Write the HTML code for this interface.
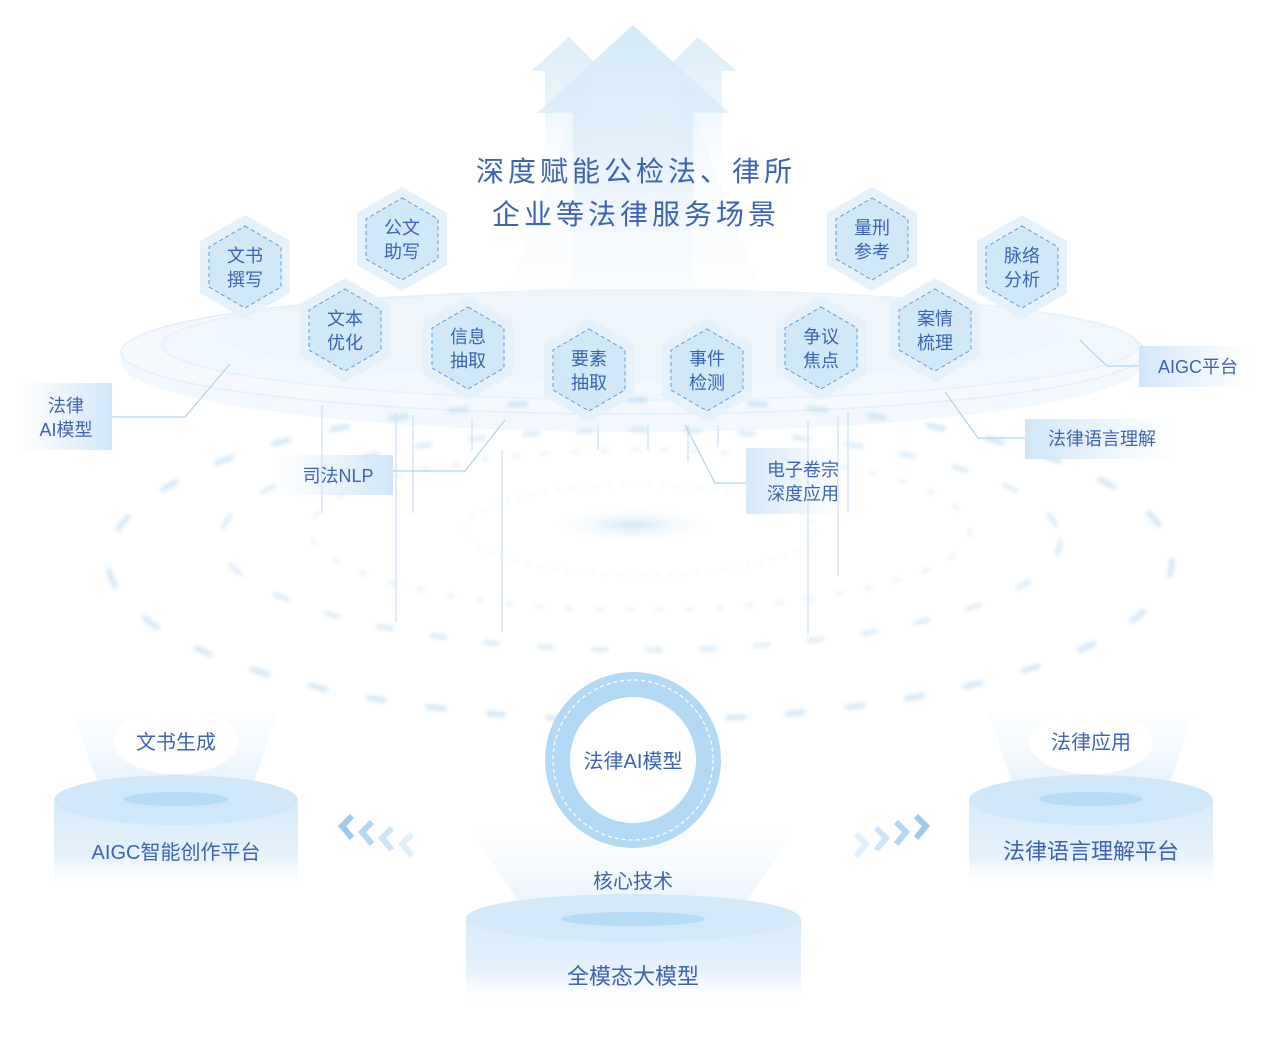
<!DOCTYPE html>
<html><head><meta charset="utf-8">
<style>
html,body{margin:0;padding:0;background:#fff;}
svg{display:block;}
text{font-family:"Liberation Sans","Noto Sans CJK SC",sans-serif;fill:#3d64b4;}
</style></head>
<body>
<svg width="1280" height="1038" viewBox="0 0 1280 1038" xmlns="http://www.w3.org/2000/svg">
<defs>
<linearGradient id="arrowG" x1="0" y1="0" x2="0" y2="1">
<stop offset="0" stop-color="#d3e9f8"/><stop offset="0.45" stop-color="#deeefa" stop-opacity="0.8"/><stop offset="1" stop-color="#eef6fd" stop-opacity="0"/></linearGradient>
<linearGradient id="beamG" x1="0" y1="0" x2="0" y2="1">
<stop offset="0" stop-color="#e6f2fb" stop-opacity="0.8"/><stop offset="1" stop-color="#f0f7fd" stop-opacity="0.3"/></linearGradient>
<linearGradient id="boxL" x1="0" y1="0" x2="1" y2="0">
<stop offset="0" stop-color="#dcedfa" stop-opacity="0"/><stop offset="1" stop-color="#cfe6f8"/></linearGradient>
<linearGradient id="boxR" x1="0" y1="0" x2="1" y2="0">
<stop offset="0" stop-color="#cfe6f8"/><stop offset="1" stop-color="#dcedfa" stop-opacity="0"/></linearGradient>
<linearGradient id="cylG" x1="0" y1="0" x2="0" y2="1">
<stop offset="0" stop-color="#d6ebf9"/><stop offset="0.6" stop-color="#e6f2fc"/><stop offset="1" stop-color="#fff" stop-opacity="0"/></linearGradient>
<linearGradient id="coneG" x1="0" y1="0" x2="0" y2="1">
<stop offset="0" stop-color="#eaf4fc" stop-opacity="0.2"/><stop offset="1" stop-color="#d3e9f8"/></linearGradient>
<radialGradient id="glow" cx="0.5" cy="0.5" r="0.5">
<stop offset="0" stop-color="#d4e9f8"/><stop offset="1" stop-color="#fff" stop-opacity="0"/></radialGradient>
<filter id="blur"><feGaussianBlur stdDeviation="2.2"/></filter>
<filter id="blur6"><feGaussianBlur stdDeviation="6"/></filter>
</defs>

<ellipse cx="633" cy="352" rx="512" ry="62" fill="#f5f9fe" stroke="#e3eef9" stroke-width="1.5"/>
<ellipse cx="650" cy="345" rx="488" ry="55" fill="#f0f7fd" stroke="#e6f1fb" stroke-width="1.5"/>
<ellipse cx="640" cy="335" rx="420" ry="45" fill="#ecf5fc" opacity="0.6"/>
<path d="M121 352 A512 62 0 0 0 1145 352 L1145 362 A512 70 0 0 1 121 362Z" fill="#e6f1fb" opacity="0.5"/>
<ellipse cx="633" cy="525" rx="90" ry="20" fill="url(#glow)"/>

<path d="M573 112 L693 112 L780 340 L490 340Z" fill="url(#beamG)" opacity="0.5"/>
<path d="M569 37 L603 71 L590 71 L590 180 L545 180 L545 71 L531 71Z" fill="url(#arrowG)" opacity="0.8"/>
<path d="M698 37 L737 71 L722 71 L722 180 L678 180 L678 71 L664 71Z" fill="url(#arrowG)" opacity="0.8"/>
<path d="M633 25 L729 113 L693 113 L693 300 L573 300 L573 113 L537 113Z" fill="url(#arrowG)"/>

<g fill="none" stroke-linecap="round" filter="url(#blur)" opacity="0.75">
<ellipse cx="640" cy="560" rx="532" ry="160" stroke="#c0ddf4" stroke-width="5" stroke-dasharray="16 44"/>
<ellipse cx="640" cy="540" rx="420" ry="110" stroke="#c8e1f5" stroke-width="4" stroke-dasharray="14 40"/>
<ellipse cx="640" cy="530" rx="330" ry="80" stroke="#d6e9f8" stroke-width="3" stroke-dasharray="6 24"/>
<ellipse cx="640" cy="530" rx="175" ry="45" stroke="#dcecf9" stroke-width="2" stroke-dasharray="3 10"/>
</g>

<g stroke="#d3e7f7" stroke-width="1.5">
<line x1="322" y1="405" x2="322" y2="513"/>
<line x1="396" y1="412" x2="396" y2="622"/>
<line x1="413" y1="415" x2="413" y2="513"/>
<line x1="472" y1="418" x2="472" y2="450"/>
<line x1="502" y1="450" x2="502" y2="632"/>
<line x1="598" y1="425" x2="598" y2="450"/>
<line x1="648" y1="425" x2="648" y2="450"/>
<line x1="688" y1="425" x2="688" y2="462"/>
<line x1="718" y1="425" x2="718" y2="447"/>
<line x1="808" y1="420" x2="808" y2="635"/>
<line x1="838" y1="415" x2="838" y2="576"/>
<line x1="848" y1="412" x2="848" y2="513"/>
</g>

<g stroke="#aed3f0" stroke-width="1.2" fill="none">
<polyline points="112,417 185,417 230,364"/>
<polyline points="393,471 465,471 505,420"/>
<polyline points="746,483 715,483 685,425"/>
<polyline points="1025,438 978,438 945,392"/>
<polyline points="1139,366 1107,366 1088,348 1080,340"/>
</g>

<rect x="15" y="383" width="97" height="67" fill="url(#boxL)"/>
<text x="66" y="412" font-size="18" text-anchor="middle">法律</text>
<text x="66" y="436" font-size="18" text-anchor="middle">AI模型</text>
<rect x="270" y="455" width="123" height="40" fill="url(#boxL)"/>
<text x="338" y="482" font-size="18" text-anchor="middle">司法NLP</text>
<rect x="746" y="448" width="100" height="66" fill="url(#boxR)" opacity="0.9"/>
<text x="803" y="476" font-size="18" text-anchor="middle">电子卷宗</text>
<text x="803" y="500" font-size="18" text-anchor="middle">深度应用</text>
<rect x="1025" y="419" width="155" height="40" fill="url(#boxR)"/>
<text x="1102" y="445" font-size="18" text-anchor="middle">法律语言理解</text>
<rect x="1139" y="346" width="115" height="41" fill="url(#boxR)"/>
<text x="1198" y="373" font-size="18" text-anchor="middle">AIGC平台</text>

<text x="636" y="181" font-size="28" text-anchor="middle" letter-spacing="4">深度赋能公检法、律所</text>
<text x="636" y="224" font-size="28" text-anchor="middle" letter-spacing="4">企业等法律服务场景</text>

<g>
<g transform="translate(245,267)"><polygon points="0,-52 45,-26 45,26 0,52 -45,26 -45,-26" fill="#e5f1fb"/><polygon points="0,-41 36,-20 36,20 0,41 -36,20 -36,-20" fill="#d1e8f8" stroke="#5d9bd8" stroke-width="1" stroke-dasharray="4 3"/><text y="-5" font-size="18" text-anchor="middle">文书</text><text y="19" font-size="18" text-anchor="middle">撰写</text></g>
<g transform="translate(402,239)"><polygon points="0,-52 45,-26 45,26 0,52 -45,26 -45,-26" fill="#e5f1fb"/><polygon points="0,-41 36,-20 36,20 0,41 -36,20 -36,-20" fill="#d1e8f8" stroke="#5d9bd8" stroke-width="1" stroke-dasharray="4 3"/><text y="-5" font-size="18" text-anchor="middle">公文</text><text y="19" font-size="18" text-anchor="middle">助写</text></g>
<g transform="translate(345,330)"><polygon points="0,-52 45,-26 45,26 0,52 -45,26 -45,-26" fill="#e5f1fb"/><polygon points="0,-41 36,-20 36,20 0,41 -36,20 -36,-20" fill="#d1e8f8" stroke="#5d9bd8" stroke-width="1" stroke-dasharray="4 3"/><text y="-5" font-size="18" text-anchor="middle">文本</text><text y="19" font-size="18" text-anchor="middle">优化</text></g>
<g transform="translate(468,348)"><polygon points="0,-52 45,-26 45,26 0,52 -45,26 -45,-26" fill="#e5f1fb"/><polygon points="0,-41 36,-20 36,20 0,41 -36,20 -36,-20" fill="#d1e8f8" stroke="#5d9bd8" stroke-width="1" stroke-dasharray="4 3"/><text y="-5" font-size="18" text-anchor="middle">信息</text><text y="19" font-size="18" text-anchor="middle">抽取</text></g>
<g transform="translate(589,370)"><polygon points="0,-52 45,-26 45,26 0,52 -45,26 -45,-26" fill="#e5f1fb"/><polygon points="0,-41 36,-20 36,20 0,41 -36,20 -36,-20" fill="#d1e8f8" stroke="#5d9bd8" stroke-width="1" stroke-dasharray="4 3"/><text y="-5" font-size="18" text-anchor="middle">要素</text><text y="19" font-size="18" text-anchor="middle">抽取</text></g>
<g transform="translate(707,370)"><polygon points="0,-52 45,-26 45,26 0,52 -45,26 -45,-26" fill="#e5f1fb"/><polygon points="0,-41 36,-20 36,20 0,41 -36,20 -36,-20" fill="#d1e8f8" stroke="#5d9bd8" stroke-width="1" stroke-dasharray="4 3"/><text y="-5" font-size="18" text-anchor="middle">事件</text><text y="19" font-size="18" text-anchor="middle">检测</text></g>
<g transform="translate(821,348)"><polygon points="0,-52 45,-26 45,26 0,52 -45,26 -45,-26" fill="#e5f1fb"/><polygon points="0,-41 36,-20 36,20 0,41 -36,20 -36,-20" fill="#d1e8f8" stroke="#5d9bd8" stroke-width="1" stroke-dasharray="4 3"/><text y="-5" font-size="18" text-anchor="middle">争议</text><text y="19" font-size="18" text-anchor="middle">焦点</text></g>
<g transform="translate(935,330)"><polygon points="0,-52 45,-26 45,26 0,52 -45,26 -45,-26" fill="#e5f1fb"/><polygon points="0,-41 36,-20 36,20 0,41 -36,20 -36,-20" fill="#d1e8f8" stroke="#5d9bd8" stroke-width="1" stroke-dasharray="4 3"/><text y="-5" font-size="18" text-anchor="middle">案情</text><text y="19" font-size="18" text-anchor="middle">梳理</text></g>
<g transform="translate(872,239)"><polygon points="0,-52 45,-26 45,26 0,52 -45,26 -45,-26" fill="#e5f1fb"/><polygon points="0,-41 36,-20 36,20 0,41 -36,20 -36,-20" fill="#d1e8f8" stroke="#5d9bd8" stroke-width="1" stroke-dasharray="4 3"/><text y="-5" font-size="18" text-anchor="middle">量刑</text><text y="19" font-size="18" text-anchor="middle">参考</text></g>
<g transform="translate(1022,267)"><polygon points="0,-52 45,-26 45,26 0,52 -45,26 -45,-26" fill="#e5f1fb"/><polygon points="0,-41 36,-20 36,20 0,41 -36,20 -36,-20" fill="#d1e8f8" stroke="#5d9bd8" stroke-width="1" stroke-dasharray="4 3"/><text y="-5" font-size="18" text-anchor="middle">脉络</text><text y="19" font-size="18" text-anchor="middle">分析</text></g>
</g>

<path d="M72 712 L278 712 L248 800 L104 800Z" fill="url(#coneG)" opacity="0.7"/>
<rect x="54" y="800" width="244" height="95" fill="url(#cylG)"/>
<ellipse cx="176" cy="800" rx="122" ry="25" fill="#cfe7f8"/>
<ellipse cx="176" cy="799" rx="52" ry="7" fill="#b6dbf4"/>
<ellipse cx="176" cy="742" rx="62" ry="32" fill="#fff"/>
<text x="176" y="749" font-size="20" text-anchor="middle">文书生成</text>
<text x="176" y="859" font-size="20" text-anchor="middle">AIGC智能创作平台</text>

<path d="M988 712 L1194 712 L1164 800 L1018 800Z" fill="url(#coneG)" opacity="0.7"/>
<rect x="969" y="800" width="244" height="95" fill="url(#cylG)"/>
<ellipse cx="1091" cy="800" rx="122" ry="25" fill="#cfe7f8"/>
<ellipse cx="1091" cy="799" rx="52" ry="7" fill="#b6dbf4"/>
<ellipse cx="1091" cy="742" rx="62" ry="32" fill="#fff"/>
<text x="1091" y="749" font-size="20" text-anchor="middle">法律应用</text>
<text x="1091" y="859" font-size="22" text-anchor="middle">法律语言理解平台</text>

<g fill="none" stroke-width="6">
<polyline points="352,816 342,826 352,838" stroke="#9ccbef"/>
<polyline points="372,822 362,832 372,844" stroke="#b3d7f3"/>
<polyline points="392,828 382,838 392,850" stroke="#cfe5f7"/>
<polyline points="412,834 402,844 412,856" stroke="#e3f0fb"/>
<polyline points="916,816 926,826 916,838" stroke="#9ccbef"/>
<polyline points="896,822 906,832 896,844" stroke="#b3d7f3"/>
<polyline points="876,828 886,838 876,850" stroke="#cfe5f7"/>
<polyline points="856,834 866,844 856,856" stroke="#e3f0fb"/>
</g>

<path d="M470 830 L795 830 L735 918 L530 918Z" fill="url(#coneG)" opacity="0.6"/>
<circle cx="633" cy="760" r="98" fill="url(#glow)" filter="url(#blur6)"/>
<circle cx="633" cy="760" r="88" fill="#b3d8f3"/>
<circle cx="633" cy="760" r="80" fill="none" stroke="#fff" stroke-width="1.2" stroke-dasharray="4 3"/>
<circle cx="633" cy="760" r="63" fill="#fff"/>
<text x="633" y="768" font-size="20" text-anchor="middle">法律AI模型</text>
<text x="633" y="888" font-size="20" text-anchor="middle">核心技术</text>
<rect x="466" y="918" width="335" height="90" fill="url(#cylG)"/>
<ellipse cx="633" cy="918" rx="167" ry="24" fill="#d3e9f8"/>
<ellipse cx="633" cy="919" rx="72" ry="7" fill="#b6dbf4"/>
<text x="633" y="984" font-size="22" text-anchor="middle">全模态大模型</text>
</svg>
</body></html>
